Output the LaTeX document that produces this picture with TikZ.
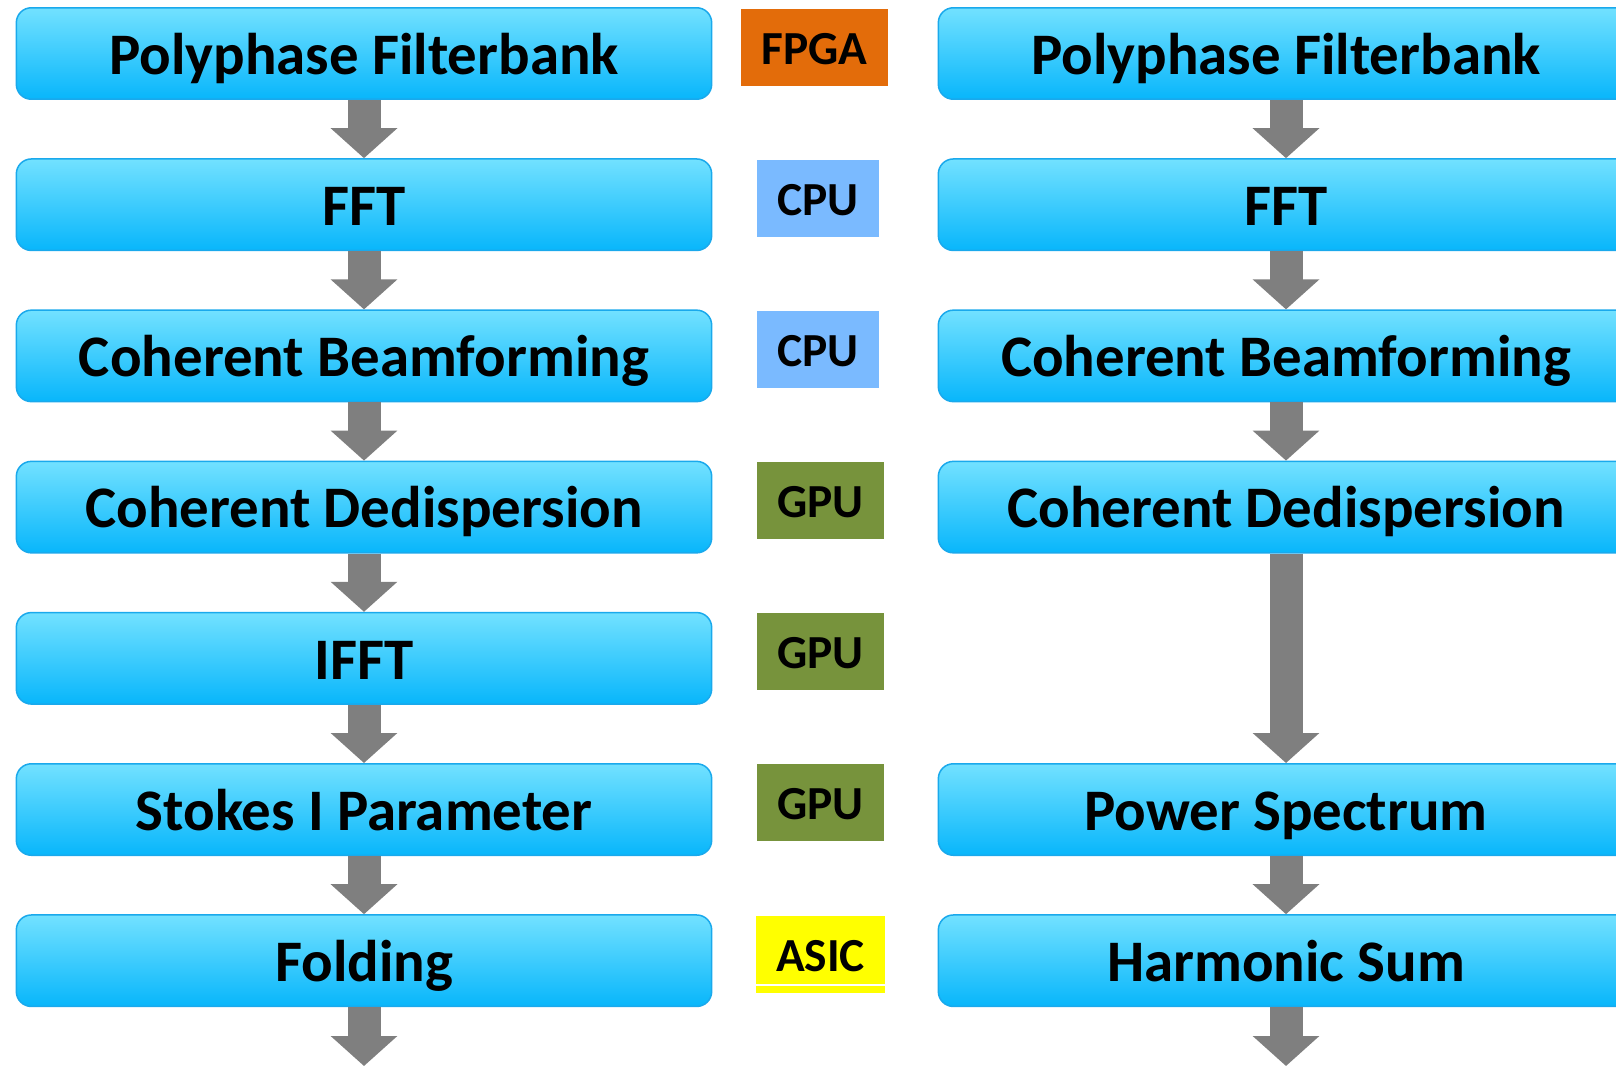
\documentclass[tikz,border=0pt]{standalone}
\usepackage{fontspec}
\setmainfont{Carlito}
\usepackage{tikz}
\usetikzlibrary{calc,arrows.meta}
\definecolor{fl-top}{HTML}{72E1FF}
\definecolor{fl-bottom}{HTML}{08B6FB}
\definecolor{fl-edge}{HTML}{1AA9EC}
\definecolor{fl-arrow}{HTML}{7F7F7F}
\definecolor{hw-fpga}{HTML}{E36C0A}
\definecolor{hw-cpu}{HTML}{7ABAFF}
\definecolor{hw-gpu}{HTML}{77933C}
\definecolor{hw-asic}{HTML}{FFFF00}
\tikzset{
    stagebox/.style={rectangle, rounded corners=0.3cm, draw=fl-edge, line width=0.03cm,
        top color=fl-top, bottom color=fl-bottom, minimum width=13.91cm, minimum height=1.83cm,
        inner sep=0pt, font=\fontsize{33.5}{36}\selectfont\bfseries, text height=23.7pt, text depth=0pt},
    hwbox/.style={rectangle, inner sep=0pt, minimum height=1.54cm,
        font=\fontsize{27}{30}\selectfont\bfseries, text height=19.7pt, text depth=0pt},
    flowarrow/.style={fl-arrow, line width=0.66cm, -{Triangle[width=1.3cm, length=0.6cm]}}
}

\begin{document}
\begin{tikzpicture}[x=0.02cm, y=-0.02cm]

    % Page frame
    \useasboundingbox (0, 0) rectangle (1616, 1066);
    \clip (0, 0) rectangle (1616, 1066);

    % Left pipeline
    \foreach \i/\txt in {1/Polyphase Filterbank, 2/FFT, 3/Coherent Beamforming,
        4/Coherent Dedispersion, 5/IFFT, 6/Stokes I Parameter, 7/Folding} {
        \node[stagebox] (l\i) at (364, {53.5 + 151.2*(\i-1)}) {\txt};
    }

    % Right pipeline
    \foreach \i/\txt in {1/Polyphase Filterbank, 2/FFT, 3/Coherent Beamforming,
        4/Coherent Dedispersion, 6/Power Spectrum, 7/Harmonic Sum} {
        \node[stagebox] (r\i) at (1286, {53.5 + 151.2*(\i-1)}) {\txt};
    }

    % Hardware labels
    \foreach \i/\x/\y/\w/\col/\txt in {1/814.5/47/2.94/hw-fpga/FPGA, 2/818/198.5/2.44/hw-cpu/CPU,
        3/818/349/2.44/hw-cpu/CPU, 4/820.5/500.5/2.54/hw-gpu/GPU, 5/820.5/651.5/2.54/hw-gpu/GPU,
        6/820.5/802.5/2.54/hw-gpu/GPU, 7/820.5/954/2.58/hw-asic/ASIC} {
        \node[hwbox, fill=\col, minimum width=\w cm] (hw\i) at (\x, \y) {\txt};
    }
    \draw[white, line width=0.03cm] ([yshift=0.16cm]hw7.south west) -- ([yshift=0.16cm]hw7.south east);

    % Arrows between stages
    \foreach \a/\b in {1/2, 2/3, 3/4, 4/5, 5/6, 6/7} {
        \draw[flowarrow] (l\a.south) -- (l\b.north);
    }
    \foreach \a/\b in {1/2, 2/3, 3/4, 4/6, 6/7} {
        \draw[flowarrow] (r\a.south) -- (r\b.north);
    }

    % Outgoing arrows at the bottom
    \coordinate (lend) at (364, 1066);
    \coordinate (rend) at (1286, 1066);
    \draw[flowarrow] (l7.south) -- (lend);
    \draw[flowarrow] (r7.south) -- (rend);
\end{tikzpicture}
\end{document}
